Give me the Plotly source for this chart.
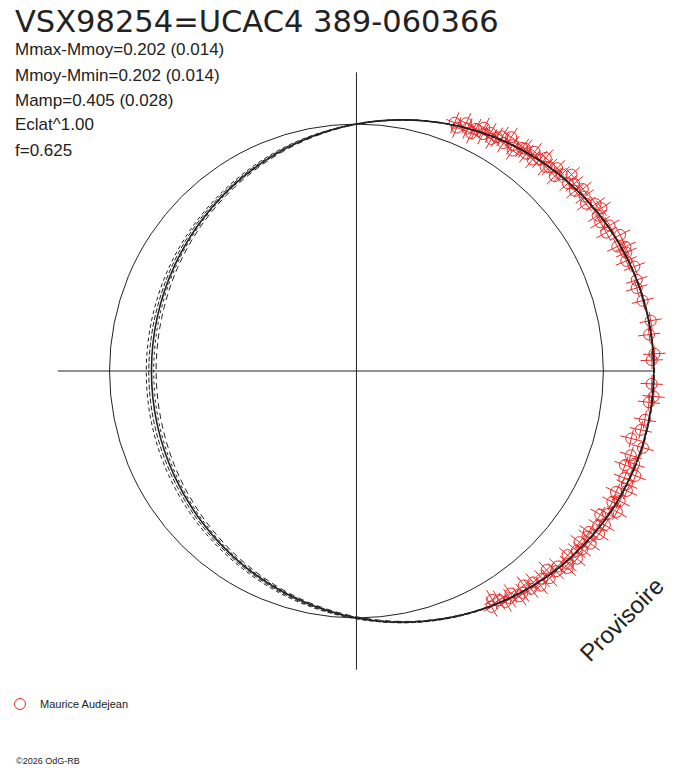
import numpy as np
import plotly.graph_objects as go

W, H = 688, 768

# observations: phase angle (deg, 0 = top, clockwise) and magnitude offset from mean
obs_phase_deg = [
    21.6, 22.4, 23.9, 24.6, 25.8, 26.3, 27.7, 28.1, 29.4, 30.2, 31.0, 31.9, 32.8,
    33.5, 34.7, 35.3, 36.6, 37.2, 38.0, 39.1, 39.8, 40.9, 41.6, 42.8, 43.4, 44.7,
    45.5, 46.2, 47.6, 48.4, 49.3, 50.5, 51.2, 52.6, 53.9, 55.1, 56.4, 57.2,
    58.6, 60.1, 61.0, 62.7, 64.5, 65.2, 66.3, 67.8, 69.4, 71.1, 72.0, 73.5,
    74.6, 76.2, 77.5, 79.0, 80.3, 81.6, 82.9, 84.1, 85.4, 86.7, 87.9, 89.2,
    90.4, 91.6, 92.5, 93.8, 94.9, 96.1, 97.0, 98.3, 99.6, 100.4, 101.7, 102.9,
    103.8, 105.0, 106.2, 107.1, 108.5, 109.3, 110.6, 111.8, 112.7, 113.9, 115.0,
    116.3, 117.1, 118.4, 119.6, 120.5, 121.8, 122.6, 123.9, 124.7,
    125.6, 126.4, 127.5, 128.3, 129.2, 130.4, 131.1, 132.3, 133.0, 134.2, 135.1,
    136.3, 137.0, 138.2, 139.4, 140.1, 141.3, 142.0, 143.2, 144.1, 145.3, 146.0,
    147.2, 148.1, 149.3, 150.2,
]
obs_dmag = [
    -0.085, -0.070, -0.101, -0.084, -0.073, -0.097, -0.116, -0.091, -0.110, -0.091,
    -0.108, -0.122, -0.102, -0.138, -0.115, -0.098, -0.128, -0.133, -0.120, -0.146,
    -0.118, -0.136, -0.156, -0.130, -0.139, -0.157, -0.129, -0.153, -0.179, -0.147,
    -0.164, -0.149, -0.176, -0.164, -0.152, -0.181, -0.190, -0.163,
    -0.158, -0.182, -0.158, -0.199, -0.171, -0.198, -0.192, -0.180, -0.200, -0.246,
    -0.192, -0.183, -0.210, -0.192, -0.219, -0.242, -0.206, -0.222, -0.193, -0.216,
    -0.234, -0.206, -0.195, -0.221,
    -0.246, -0.213, -0.195, -0.224, -0.205, -0.190, -0.220, -0.207, -0.184, -0.225,
    -0.176, -0.208, -0.148, -0.199, -0.213, -0.163, -0.185, -0.154, -0.204, -0.169,
    -0.186, -0.196, -0.161, -0.188, -0.165, -0.197, -0.172, -0.148, -0.183, -0.163,
    -0.183, -0.147,
    -0.153, -0.178, -0.141, -0.166, -0.153, -0.173, -0.137, -0.161, -0.170, -0.138,
    -0.147, -0.118, -0.149, -0.131, -0.147, -0.119, -0.133, -0.105, -0.125, -0.129,
    -0.100, -0.113, -0.116, -0.096, -0.081, -0.104,
]

# fitted light curves (magnitude offset every 15 deg of phase)
fit_phase_deg = [0, 15, 30, 45, 60, 75, 90, 105, 120, 135, 150, 165, 180,
                 195, 210, 225, 240, 255, 270, 285, 300, 315, 330, 345, 360]
fit_main = [0.000, -0.052, -0.101, -0.143, -0.175, -0.195, -0.202, -0.195, -0.175,
            -0.143, -0.101, -0.052, 0.000, 0.052, 0.101, 0.143, 0.175, 0.195, 0.202,
            0.195, 0.175, 0.143, 0.101, 0.052, 0.000]
fit_alt = [
    [0.000, -0.051, -0.100, -0.142, -0.174, -0.194, -0.201, -0.195, -0.176, -0.144,
     -0.102, -0.054, -0.004, 0.042, 0.086, 0.122, 0.150, 0.168, 0.175, 0.170, 0.153,
     0.126, 0.089, 0.045, 0.000],
    [0.001, -0.053, -0.102, -0.144, -0.176, -0.196, -0.203, -0.196, -0.176, -0.143,
     -0.100, -0.050, 0.005, 0.060, 0.114, 0.161, 0.197, 0.220, 0.227, 0.219, 0.194,
     0.157, 0.111, 0.057, 0.001],
    [-0.001, -0.052, -0.100, -0.143, -0.175, -0.194, -0.201, -0.194, -0.174, -0.142,
     -0.100, -0.051, 0.002, 0.056, 0.107, 0.151, 0.185, 0.206, 0.214, 0.206, 0.183,
     0.149, 0.105, 0.053, -0.001],
    [0.000, -0.053, -0.103, -0.145, -0.177, -0.197, -0.204, -0.197, -0.177, -0.145,
     -0.103, -0.055, -0.003, 0.047, 0.094, 0.133, 0.163, 0.181, 0.188, 0.183, 0.164,
     0.134, 0.095, 0.048, 0.000],
]
alt_dash = ["4px,3px", "6px,4px", "3px,3px", "5px,2px"]

stats = ["Mmax-Mmoy=0.202 (0.014)", "Mmoy-Mmin=0.202 (0.014)",
         "Mamp=0.405 (0.028)", "Eclat^1.00", "f=0.625"]

EXPO = 1.00  # radius = brightness ^ EXPO


def radius(dmag):
    return (10 ** (-0.4 * np.array(dmag))) ** EXPO


red = "rgb(236,40,40)"
ink = "#222222"

fig = go.Figure()

# error crosses: radial and tangential arms
fig.add_trace(go.Scatterpolar(
    r=radius(obs_dmag), theta=obs_phase_deg, mode="markers", cliponaxis=False,
    marker=dict(symbol="line-ns", size=16, angle=obs_phase_deg,
                line=dict(color=red, width=1)),
    showlegend=False, hoverinfo="skip"))
fig.add_trace(go.Scatterpolar(
    r=radius(obs_dmag), theta=obs_phase_deg, mode="markers", cliponaxis=False,
    marker=dict(symbol="line-ew", size=13, angle=obs_phase_deg,
                line=dict(color=red, width=1)),
    showlegend=False, hoverinfo="skip"))
fig.add_trace(go.Scatterpolar(
    r=radius(obs_dmag), theta=obs_phase_deg, mode="markers", cliponaxis=False,
    name="Maurice Audejean",
    marker=dict(symbol="circle-open", size=11, color=red, line=dict(color=red, width=1))))

for vals, dash in zip(fit_alt, alt_dash):
    fig.add_trace(go.Scatterpolar(
        r=radius(vals), theta=fit_phase_deg, mode="lines",
        line=dict(color=ink, width=1, dash=dash, shape="spline"),
        showlegend=False, hoverinfo="skip"))
fig.add_trace(go.Scatterpolar(
    r=radius(fit_main), theta=fit_phase_deg, mode="lines",
    line=dict(color=ink, width=1.6, shape="spline"),
    showlegend=False, hoverinfo="skip"))

cx, cy, R_out, R_ref = 355, 371, 300, 248


def px(x):
    return x / W


def py(y):
    return 1 - y / H


fig.update_layout(
    width=W, height=H, autosize=False,
    margin=dict(l=0, r=0, t=0, b=0),
    paper_bgcolor="white", plot_bgcolor="white",
    font=dict(family="Liberation Sans, Arial, sans-serif", color=ink),
    polar=dict(
        domain=dict(x=[px(cx - R_out), px(cx + R_out)],
                    y=[py(cy + R_out), py(cy - R_out)]),
        bgcolor="white",
        radialaxis=dict(range=[0, R_out / R_ref], tickvals=[1], showgrid=True,
                        gridcolor=ink, gridwidth=1, showline=False,
                        showticklabels=False, ticks=""),
        angularaxis=dict(rotation=90, direction="clockwise",
                         tickvals=[0, 90, 180, 270], showgrid=True,
                         gridcolor=ink, gridwidth=1, showline=False,
                         showticklabels=False, ticks=""),
    ),
    showlegend=True,
    legend=dict(x=px(-3), y=py(704), xanchor="left", yanchor="middle",
                bgcolor="rgba(0,0,0,0)", font=dict(size=11, color=ink)),
)

ann = [dict(text="VSX98254=UCAC4 389-060366", x=px(10), y=py(21),
            font=dict(size=30.5, family="DejaVu Sans, sans-serif", color=ink))]
for i, s in enumerate(stats):
    ann.append(dict(text=s, x=px(10), y=py(50 + 25 * i), font=dict(size=17)))
ann.append(dict(text="©2026 OdG-RB", x=px(11), y=py(761), font=dict(size=9)))
for a in ann:
    a.update(xref="paper", yref="paper", xanchor="left", yanchor="middle",
             showarrow=False)
fig.update_layout(annotations=ann)
fig.add_annotation(text="Provisoire", x=px(621), y=py(619), xref="paper",
                   yref="paper", xanchor="center", yanchor="middle",
                   showarrow=False, textangle=-45,
                   font=dict(size=24, color=ink))

# drop the default page margin so the figure sits at the window corner
fig.write_html("out.html", config={"displayModeBar": False},
               post_script="document.body.style.margin='0';")
